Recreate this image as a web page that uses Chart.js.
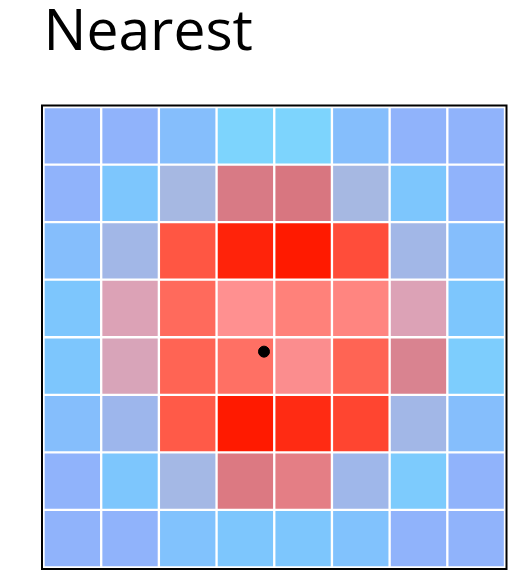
<!DOCTYPE html>
<html>
<head>
<meta charset="utf-8">
<script src="https://cdn.jsdelivr.net/npm/chart.js@4/dist/chart.umd.min.js"></script>
<style>
html,body{margin:0;padding:0;background:#fff}
#wrap{width:530px;height:585px}
</style>
</head>
<body>
<div id="wrap"><canvas id="grid"></canvas></div>
<script>

// 8x8 grid, top row first, value 0 (cool) .. 1 (hot)
const cols = ["0","1","2","3","4","5","6","7"]
const row0 = [0.22,0.22,0.16,0.00,0.00,0.16,0.22,0.22]
const row1 = [0.22,0.12,0.32,0.54,0.55,0.32,0.12,0.22]
const row2 = [0.16,0.30,0.86,0.98,1.00,0.88,0.30,0.16]
const row3 = [0.12,0.45,0.80,0.65,0.72,0.70,0.45,0.12]
const row4 = [0.12,0.44,0.82,0.78,0.64,0.82,0.52,0.06]
const row5 = [0.16,0.28,0.85,1.00,0.96,0.90,0.30,0.16]
const row6 = [0.22,0.12,0.31,0.56,0.58,0.29,0.08,0.22]
const row7 = [0.22,0.22,0.14,0.12,0.12,0.14,0.22,0.22]
const rows = [row0,row1,row2,row3,row4,row5,row6,row7]

// sample point
const dotX = [3.80]
const dotY = [3.75]

// colour ramp
const stops = [
[0.00,[125,212,253]],
[0.12,[125,198,253]],
[0.22,[144,179,251]],
[0.32,[166,184,226]],
[0.45,[220,162,182]],
[0.55,[216,118,128]],
[0.65,[255,144,144]],
[0.75,[255,122,112]],
[0.85,[255,90,72]],
[1.00,[255,26,0]]
]

function ramp(v){
for(let i=1;i<stops.length;i++){
if(v<=stops[i][0]){
let a=stops[i-1], b=stops[i]
let t=(v-a[0])/(b[0]-a[0])
let c=a[1].map((x,k)=>Math.round(x+(b[1][k]-x)*t))
return `rgb(${c[0]},${c[1]},${c[2]})`
}
}
let c=stops[stops.length-1][1]
return `rgb(${c[0]},${c[1]},${c[2]})`
}

let datasets=[]

// bottom row is stacked first
for(let d=0;d<8;d++){
let r=rows[7-d]
datasets.push({
type:"bar",
data:cols.map(()=>1),
backgroundColor:r.map(ramp),
borderColor:"#fff",
borderWidth:1.5,
borderSkipped:false,
barPercentage:1,
categoryPercentage:1,
grouped:false,
order:1
})
}

datasets.push({
type:"scatter",
data:dotX.map((x,i)=>({x:x,y:dotY[i]})),
xAxisID:"xd",
backgroundColor:"#000",
borderColor:"#000",
pointRadius:5.5,
order:0
})

const frame={
id:"frame",
afterDraw(chart){
const a=chart.chartArea
const ctx=chart.ctx
ctx.save()
ctx.strokeStyle="#000"
ctx.lineWidth=2
ctx.strokeRect(a.left-1.5,a.top-1.5,a.right-a.left+3,a.bottom-a.top+3)
ctx.restore()
}
}

new Chart(document.getElementById("grid"),{
type:"bar",
data:{labels:cols,datasets:datasets},
options:{
responsive:true,
maintainAspectRatio:false,
animation:false,
events:[],
layout:{padding:{left:43.5,right:25,bottom:17.5,top:0}},
scales:{
x:{type:"category",stacked:true,offset:true,display:false},
xd:{type:"linear",min:0,max:8,display:false},
y:{type:"linear",stacked:true,min:0,max:8,display:false}
},
plugins:{
legend:{display:false},
tooltip:{enabled:false},
title:{
display:true,
text:"Nearest",
align:"start",
color:"#000",
font:{family:"'Open Sans'",size:57,weight:"normal",lineHeight:1.2},
padding:{top:0,bottom:38.6}
}
}
},
plugins:[frame]
})

</script>
</body>
</html>
